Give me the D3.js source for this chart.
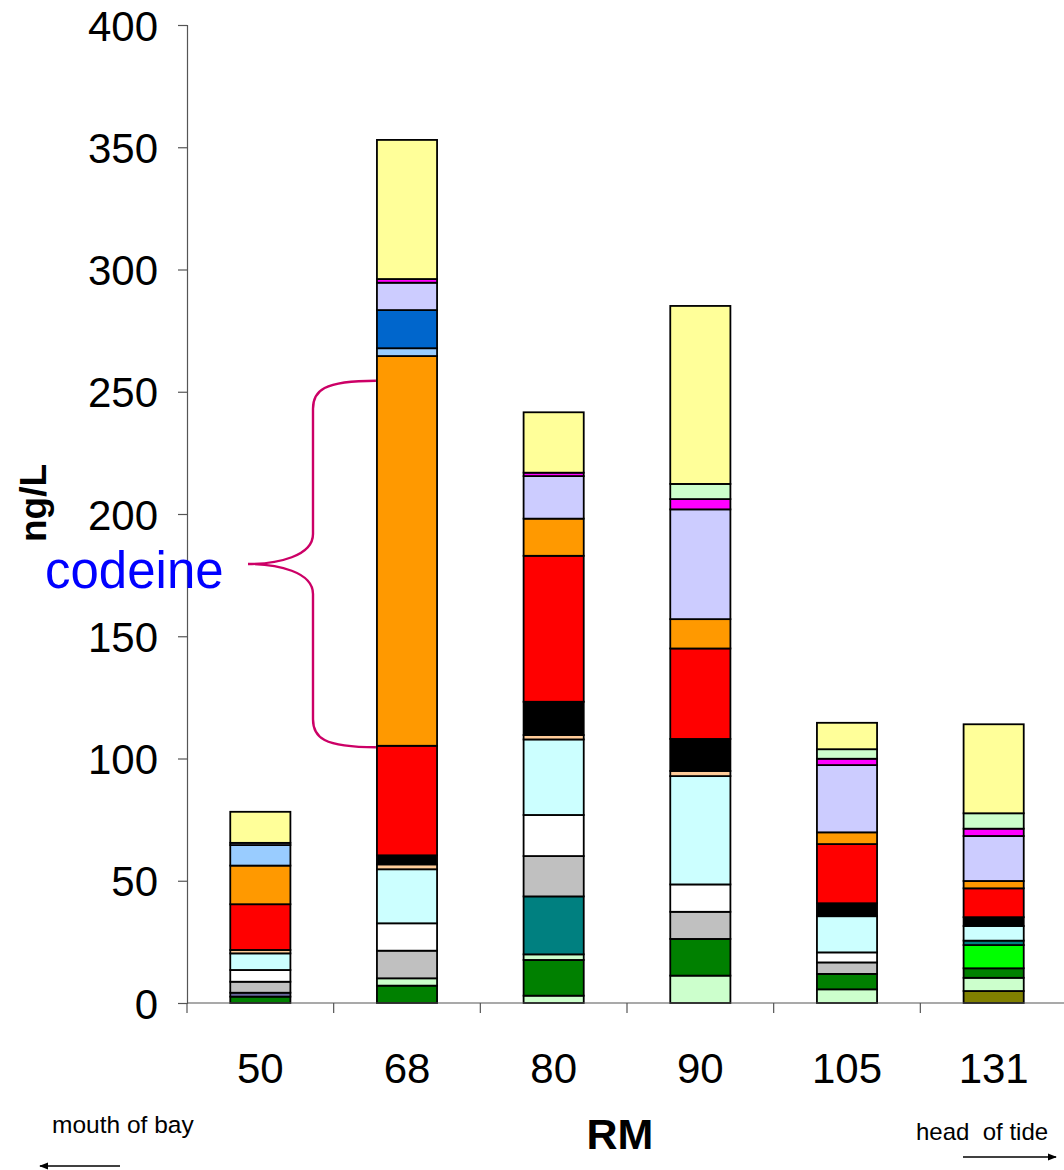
<!DOCTYPE html>
<html>
<head>
<meta charset="utf-8">
<script src="https://cdn.jsdelivr.net/npm/d3@7"></script>
<style>
  body { margin: 0; background: #fff; }
  svg { display: block; font-family: "Liberation Sans", Arial, sans-serif; }
</style>
</head>
<body>
<svg id="chart" width="1064" height="1170"></svg>
<script>
// ---- data (ng/L), bottom-to-top stacking order ----
const categories = ["50", "68", "80", "90", "105", "131"];
const olive       = [0, 0, 0, 0, 0, 4.9];
const lightGreenA = [0, 0, 3.0, 11.2, 5.6, 5.4];
const green       = [2.6, 7.1, 14.6, 15.0, 6.3, 3.9];
const lightGreenB = [0, 3.0, 2.3, 0, 0, 0];
const brightGreen = [0, 0, 0, 0, 0, 9.5];
const slate       = [1.6, 0, 0, 0, 0, 0];
const teal        = [0, 0, 23.7, 0, 0, 1.8];
const gray        = [4.5, 11.3, 16.5, 11.1, 4.7, 0];
const white       = [4.8, 11.2, 16.8, 11.2, 4.1, 0];
const lightCyan   = [6.8, 22.1, 30.9, 44.3, 14.8, 6.0];
const peach       = [1.4, 2.0, 1.8, 2.1, 0, 0];
const black       = [0, 3.7, 13.6, 13.1, 5.3, 3.6];
const red         = [18.7, 44.8, 59.7, 37.0, 24.2, 11.8];
const codeine     = [15.8, 159.4, 15.2, 12.0, 4.8, 3.0];
const lightBlue   = [8.4, 3.2, 0, 0, 0, 0];
const blue        = [0, 15.6, 0, 0, 0, 0];
const lavender    = [0.9, 11.2, 17.4, 44.9, 27.5, 18.4];
const magenta     = [0, 1.5, 1.4, 4.2, 2.6, 3.0];
const lightGreenC = [0, 0, 0, 6.2, 3.9, 6.3];
const yellow      = [12.7, 56.9, 24.7, 72.8, 10.8, 36.4];

const seriesNames = ["olive","lightGreenA","green","lightGreenB","brightGreen","slate","teal","gray","white",
  "lightCyan","peach","black","red","codeine","lightBlue","blue","lavender","magenta","lightGreenC","yellow"];
const seriesValues = [olive,lightGreenA,green,lightGreenB,brightGreen,slate,teal,gray,white,
  lightCyan,peach,black,red,codeine,lightBlue,blue,lavender,magenta,lightGreenC,yellow];
const seriesColors = ["#808000","#CCFFCC","#008000","#CCFFCC","#00FF00","#666699","#008080","#C0C0C0","#FFFFFF",
  "#CCFFFF","#FFCC99","#000000","#FF0000","#FF9900","#99CCFF","#0066CC","#CCCCFF","#FF00FF","#CCFFCC","#FFFF99"];

const yTicks = [0, 50, 100, 150, 200, 250, 300, 350, 400];
const codeineBrace = [254.5, 104.6]; // bracket span in ng/L

// ---- build table ----
const table = categories.map((c, i) => {
  const row = { cat: c };
  seriesNames.forEach((n, k) => row[n] = seriesValues[k][i]);
  return row;
});
const stacked = d3.stack().keys(seriesNames)(table);

const svg = d3.select("#chart");
const plotLeft = 187, plotRight = 1067, plotTop = 25, plotBottom = 1003;

const x = d3.scaleBand().domain(categories).range([plotLeft, plotRight]).paddingInner(0.59).paddingOuter(0.295);
const xb = d3.scaleBand().domain(categories).range([plotLeft, plotRight]);
const y = d3.scaleLinear().domain([0, 400]).range([plotBottom, plotTop]);

// bars
stacked.forEach((s, k) => {
  svg.append("g")
    .selectAll("rect")
    .data(s.filter(d => d[1] - d[0] > 0))
    .join("rect")
    .attr("x", d => x(d.data.cat))
    .attr("width", x.bandwidth())
    .attr("y", d => y(d[1]))
    .attr("height", d => y(d[0]) - y(d[1]))
    .attr("fill", seriesColors[k])
    .attr("stroke", "#000")
    .attr("stroke-width", 1.8);
});

// y axis
const yAxis = d3.axisLeft(y).tickValues(yTicks).tickSize(9).tickPadding(20);
const gy = svg.append("g").attr("transform", `translate(${plotLeft},0)`).call(yAxis);
gy.select(".domain").attr("stroke", "#555").attr("stroke-width", 1.2);
gy.selectAll(".tick line").attr("stroke", "#555").attr("stroke-width", 1.2);
gy.selectAll(".tick text").attr("font-size", 42).attr("fill", "#000").attr("font-family", "Liberation Sans, Arial, sans-serif")
  .attr("dy", "0.36em");

// x axis line
svg.append("line").attr("x1", plotLeft).attr("x2", 1064).attr("y1", plotBottom).attr("y2", plotBottom)
  .attr("stroke", "#555").attr("stroke-width", 1.2);
// x ticks at band boundaries
svg.append("g").selectAll("line")
  .data(categories)
  .join("line")
  .attr("x1", d => xb(d)).attr("x2", d => xb(d))
  .attr("y1", plotBottom).attr("y2", plotBottom + 10)
  .attr("stroke", "#555").attr("stroke-width", 1.2);
// x labels
svg.append("g").selectAll("text")
  .data(categories)
  .join("text")
  .attr("x", d => xb(d) + xb.bandwidth() / 2)
  .attr("y", 1083)
  .attr("text-anchor", "middle")
  .attr("font-size", 42)
  .text(d => d);

// axis titles
svg.append("text").attr("transform", "translate(46,503) rotate(-90)")
  .attr("text-anchor", "middle").attr("font-size", 37).attr("font-weight", "bold").text("ng/L");
svg.append("text").attr("x", 620).attr("y", 1149)
  .attr("text-anchor", "middle").attr("font-size", 43).attr("font-weight", "bold").text("RM");

// direction labels
svg.append("text").attr("x", 52).attr("y", 1133).attr("font-size", 24.5).text("mouth of bay");
svg.append("text").attr("x", 916).attr("y", 1140).attr("font-size", 24).attr("xml:space", "preserve").text("head  of tide");

const defs = svg.append("defs");
defs.append("marker").attr("id", "arr").attr("viewBox", "0 0 10 10").attr("refX", 9).attr("refY", 5)
  .attr("markerWidth", 6).attr("markerHeight", 6).attr("orient", "auto-start-reverse")
  .append("path").attr("d", "M0,1 L10,5 L0,9 z").attr("fill", "#000");
svg.append("line").attr("x1", 120).attr("x2", 40).attr("y1", 1166).attr("y2", 1166)
  .attr("stroke", "#000").attr("stroke-width", 1.5).attr("marker-end", "url(#arr)");
svg.append("line").attr("x1", 963).attr("x2", 1056).attr("y1", 1157).attr("y2", 1157)
  .attr("stroke", "#000").attr("stroke-width", 1.5).attr("marker-end", "url(#arr)");

// codeine brace
const bTop = y(codeineBrace[0]), bBot = y(codeineBrace[1]);
const bMid = (bTop + bBot) / 2;
const bx0 = x("68") - 1, bx1 = 313, btip = 248;
const brace = `M${bx0},${bTop} C${bx1 + 10},${bTop} ${bx1},${bTop + 10} ${bx1},${bTop + 28}
  L${bx1},${bMid - 30} C${bx1},${bMid - 8} ${btip + 30},${bMid} ${btip},${bMid}
  C${btip + 30},${bMid} ${bx1},${bMid + 8} ${bx1},${bMid + 30}
  L${bx1},${bBot - 28} C${bx1},${bBot - 10} ${bx1 + 10},${bBot} ${bx0},${bBot}`;
svg.append("path").attr("d", brace).attr("fill", "none").attr("stroke", "#CC0066").attr("stroke-width", 2.4);
svg.append("text").attr("x", 45).attr("y", 588).attr("font-size", 51).attr("fill", "#0000FF").text("codeine");
</script>
</body>
</html>
